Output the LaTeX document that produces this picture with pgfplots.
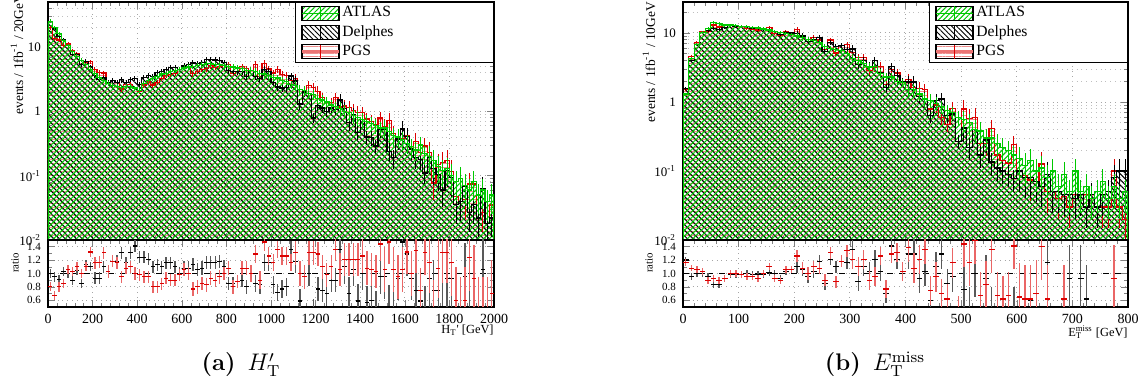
\documentclass[border=0pt]{standalone}
\usepackage{fontspec}
\usepackage{pgfplots}
\pgfplotsset{compat=1.18}
\usepackage{pgfplotstable}
\usetikzlibrary{patterns.meta}
\newfontfamily\rootfont{Liberation Serif}
\definecolor{agreen}{RGB}{0,200,0}
\definecolor{pred}{RGB}{220,0,0}

% x = low bin edge, c = bin centre, a = ATLAS, d = Delphes, p = PGS, rd/rp = ratios, e = error
\pgfplotstableread{
x c a d p rd rp e
0 nan 0.001 0.001 0.001 nan nan nan
0 10 25 25 20 1.0 0.81 0.07
20 30 20 19 13.4 0.95 0.67 0.07
40 50 16 14.6 12.8 0.91 0.80 0.07
60 70 12.5 12.9 10.6 1.03 0.85 0.07
80 90 10.5 10.5 11.1 1.0 1.06 0.07
100 110 8.5 7.65 8.75 0.9 1.03 0.07
120 130 7.2 7.56 7.92 1.05 1.1 0.07
140 150 6.2 5.27 6.2 0.85 1.0 0.07
160 170 5.3 5.99 5.83 1.13 1.1 0.07
180 190 4.5 4.95 5.94 1.1 1.32 0.07
200 210 3.9 3.63 4.52 0.93 1.16 0.09
220 230 3.4 3.16 3.98 0.93 1.17 0.09
240 250 3.0 3.3 3.93 1.1 1.31 0.09
260 270 2.7 2.78 2.78 1.03 1.03 0.09
280 290 2.55 3.01 3.01 1.18 1.18 0.09
300 310 2.4 2.83 2.78 1.18 1.16 0.09
320 330 2.35 3.08 2.23 1.31 0.95 0.09
340 350 2.4 2.78 2.59 1.16 1.08 0.09
360 370 2.4 3.14 2.64 1.31 1.1 0.09
380 390 2.3 3.24 2.3 1.41 1.0 0.09
400 410 2.1 2.6 2.06 1.24 0.98 0.09
420 430 2.7 3.35 2.57 1.24 0.95 0.09
440 450 3.0 3.63 2.85 1.21 0.95 0.09
460 470 3.2 3.52 2.56 1.1 0.8 0.09
480 490 3.5 3.96 2.8 1.13 0.8 0.09
500 510 3.8 4.18 3.23 1.1 0.85 0.09
520 530 3.9 4.52 3.63 1.16 0.93 0.09
540 550 4.1 4.76 3.69 1.16 0.9 0.09
560 570 4.3 4.73 3.87 1.1 0.9 0.09
580 590 4.5 4.5 4.41 1.0 0.98 0.09
600 610 4.7 5.08 4.98 1.08 1.06 0.1
620 630 4.9 5.29 4.9 1.08 1.0 0.1
640 650 5.0 5.65 3.85 1.13 0.77 0.1
660 670 5.2 5.51 4.16 1.06 0.8 0.1
680 690 5.3 5.72 4.5 1.08 0.85 0.1
700 710 5.5 6.38 4.57 1.16 0.83 0.1
720 730 5.5 6.38 5.12 1.16 0.93 0.1
740 750 5.4 6.26 4.86 1.16 0.9 0.1
760 770 5.3 6.25 5.04 1.18 0.95 0.1
780 790 5.2 5.72 5.2 1.1 1.0 0.1
800 810 5.0 4.25 5.4 0.85 1.08 0.1
820 830 4.9 4.17 3.92 0.85 0.8 0.1
840 850 4.7 4.14 4.14 0.88 0.88 0.1
860 870 4.6 4.14 4.97 0.9 1.08 0.1
880 890 4.3 3.44 4.64 0.8 1.08 0.1
900 910 4.3 4.3 4.3 1.0 1.0 0.13
920 930 4.1 3.49 5.29 0.85 1.29 0.13
940 950 3.9 3.24 3.51 0.83 0.9 0.13
960 970 3.8 4.41 5.59 1.16 1.47 0.13
980 990 3.6 4.18 4.54 1.16 1.26 0.13
1000 1010 3.4 2.82 3.94 0.83 1.16 0.13
1020 1030 3.3 2.38 4.49 0.72 1.36 0.13
1040 1050 3.0 2.31 3.78 0.77 1.26 0.13
1060 1070 2.9 2.32 3.65 0.8 1.26 0.13
1080 1090 2.6 3.54 3.02 1.36 1.16 0.13
1100 1110 2.5 2.95 3.28 1.18 1.31 0.18
1120 1130 2.2 1.3 2.2 0.59 1.0 0.18
1140 1150 2.1 2.0 2.0 0.95 0.95 0.18
1160 1170 1.9 1.9 2.49 1.0 1.31 0.18
1180 1190 1.8 0.79 2.36 0.44 1.31 0.18
1200 1210 1.6 1.23 2.06 0.77 1.29 0.18
1220 1230 1.5 1.13 1.65 0.75 1.1 0.18
1240 1250 1.4 0.98 1.37 0.7 0.98 0.18
1260 1270 1.25 1.13 1.38 0.9 1.1 0.18
1280 1290 1.2 1.08 1.63 0.9 1.36 0.18
1300 1310 1.1 1.5 1.17 1.36 1.06 0.25
1320 1330 1.0 1.1 1.21 1.1 1.21 0.25
1340 1350 0.95 0.67 1.15 0.7 1.21 0.25
1360 1370 0.85 0.9 1.03 1.06 1.21 0.25
1380 1390 0.8 0.47 0.97 0.59 1.21 0.25
1400 1410 0.75 0.75 0.95 1.0 1.26 0.25
1420 1430 0.7 0.4 0.76 0.57 1.08 0.25
1440 1450 0.65 0.39 0.69 0.6 1.06 0.25
1460 1470 0.6 0.29 0.62 0.49 1.03 0.25
1480 1490 0.55 0.52 0.79 0.95 1.44 0.25
1500 1510 0.55 0.52 0.58 0.95 1.06 0.33
1520 1530 0.48 0.24 0.71 0.5 1.47 0.33
1540 1550 0.42 0.19 0.45 0.45 1.06 0.33
1560 1570 0.4 0.37 0.38 0.93 0.95 0.33
1580 1590 0.36 0.53 0.38 1.47 1.06 0.33
1600 1610 0.32 0.41 0.42 1.29 1.32 0.33
1620 1630 0.28 0.26 0.28 0.93 1.0 0.33
1640 1650 0.25 0.19 0.34 0.75 1.34 0.33
1660 1670 0.3 0.18 0.23 0.59 0.75 0.33
1680 1690 0.22 0.11 0.29 0.49 1.31 0.33
1700 1710 0.2 0.19 0.23 0.93 1.16 0.45
1720 1730 0.17 0.13 0.077 0.75 0.45 0.45
1740 1750 0.14 0.105 0.15 0.75 1.08 0.45
1760 1770 0.12 0.06 0.16 0.5 1.31 0.45
1780 1790 0.13 0.12 0.17 0.93 1.31 0.45
1800 1810 0.1 0.093 0.116 0.93 1.16 0.5
1820 1830 0.08 0.036 0.048 0.45 0.6 0.5
1840 1850 0.09 0.04 0.04 0.45 0.45 0.5
1860 1870 0.07 0.067 0.042 0.95 0.6 0.5
1880 1890 0.06 0.027 0.074 0.45 1.24 0.5
1900 1910 0.08 0.036 0.074 0.45 0.93 0.5
1920 1930 0.05 0.022 0.022 0.45 0.45 0.5
1940 1950 0.06 0.064 0.027 1.06 0.45 0.5
1960 1970 0.04 0.018 0.018 0.45 0.45 0.5
1980 1990 0.05 0.022 0.035 0.45 0.7 0.5
2000 nan 0.05 0.022 0.035 nan nan nan
2000 nan 0.001 0.001 0.001 nan nan nan
}\htL

\pgfplotstableread{
x c a d p rd rp e
0 nan 0.001 0.001 0.001 nan nan nan
0 5 1.3 1.56 1.51 1.2 1.16 0.05
10 15 4.2 3.99 4.54 0.95 1.08 0.05
20 25 6.8 6.8 7.2 1.0 1.06 0.05
30 35 10 10 10.3 1.0 1.03 0.05
40 45 11.5 10.9 10.35 0.95 0.9 0.05
50 55 14 11.6 13.0 0.83 0.93 0.05
60 65 13.5 11.2 12.15 0.83 0.9 0.05
70 75 13 12.1 12.1 0.93 0.93 0.05
80 85 13 12.7 13 0.98 1.0 0.05
90 95 12.8 12.5 12.8 0.98 1.0 0.05
100 105 12.5 12.25 12.25 0.98 0.98 0.05
110 115 12.3 12.3 11.7 1.0 0.95 0.05
120 125 12 11.8 11.4 0.98 0.95 0.05
130 135 11.8 11.6 11.0 0.98 0.93 0.05
140 145 11.4 11.2 11.4 0.98 1.0 0.05
150 155 11 11.2 12.1 1.02 1.1 0.05
160 165 10.6 10.6 9.86 1.0 0.93 0.05
170 175 10.2 9.49 9.18 0.93 0.9 0.05
180 185 9.8 10.1 10.4 1.03 1.06 0.05
190 195 9.4 9.96 9.96 1.06 1.06 0.05
200 205 9.0 9.9 11.3 1.1 1.26 0.09
210 215 8.5 9.0 9.18 1.06 1.08 0.09
220 225 8.0 7.6 8.0 0.95 1.0 0.09
230 235 7.8 8.03 8.58 1.03 1.1 0.09
240 245 7.3 8.61 7.88 1.18 1.08 0.09
250 255 6.4 5.44 5.76 0.85 0.9 0.09
260 265 6.0 7.26 7.86 1.21 1.31 0.09
270 275 5.8 6.38 5.1 1.1 0.88 0.09
280 285 5.5 6.49 6.49 1.18 1.18 0.09
290 295 5.0 5.8 6.7 1.16 1.34 0.09
300 305 4.3 5.85 5.2 1.36 1.21 0.14
310 315 4.0 3.52 4.4 0.88 1.1 0.14
320 325 3.6 3.96 4.36 1.1 1.21 0.14
330 335 3.2 3.3 2.88 1.03 0.9 0.14
340 345 3.3 3.99 3.14 1.21 0.95 0.14
350 355 2.6 2.68 3.28 1.03 1.26 0.14
360 365 2.3 1.61 1.77 0.7 0.77 0.14
370 375 2.3 3.24 2.97 1.41 1.29 0.14
380 385 2.0 2.42 2.62 1.21 1.31 0.14
390 395 1.9 1.96 1.96 1.03 1.03 0.14
400 405 1.5 1.94 2.09 1.29 1.39 0.22
410 415 1.5 1.94 1.62 1.29 1.08 0.22
420 425 1.3 1.21 1.57 0.93 1.21 0.22
430 435 1.1 1.13 1.5 1.03 1.36 0.22
440 445 1.05 0.63 0.79 0.6 0.75 0.22
450 455 0.95 1.05 0.9 1.1 0.95 0.22
460 465 0.85 1.1 0.6 1.29 0.7 0.22
470 475 0.75 0.64 0.47 0.85 0.62 0.22
480 485 0.7 0.67 0.81 0.95 1.16 0.22
490 495 0.6 0.27 0.27 0.45 0.45 0.22
500 505 0.55 0.42 0.79 0.76 1.44 0.35
510 515 0.5 0.22 0.58 0.45 1.16 0.35
520 525 0.4 0.4 0.6 1.0 1.49 0.35
530 535 0.38 0.17 0.25 0.45 0.67 0.35
540 545 0.3 0.28 0.25 0.93 0.83 0.35
550 555 0.3 0.135 0.41 0.45 1.36 0.35
560 565 0.25 0.11 0.17 0.45 0.67 0.35
570 575 0.22 0.1 0.14 0.45 0.62 0.35
580 585 0.2 0.09 0.13 0.45 0.67 0.35
590 595 0.17 0.077 0.24 0.45 1.41 0.35
600 605 0.15 0.1 0.1 nan 0.65 0.5
610 615 0.12 0.08 0.087 nan 0.62 0.5
620 625 0.14 0.08 0.074 0.6 0.62 0.5
630 635 0.1 0.07 0.07 nan 0.7 0.5
640 645 0.11 0.06 0.126 nan 1.4 0.5
650 655 0.08 0.09 0.05 1.16 0.62 0.5
660 665 0.1 0.05 0.05 nan nan 0.5
670 675 0.06 0.05 0.04 nan nan 0.5
680 685 0.09 0.045 0.043 0.62 0.62 0.5
690 695 0.05 0.045 0.03 0.93 nan 0.5
700 705 0.1 0.04 0.045 nan nan 0.5
710 715 0.05 0.045 0.045 0.93 nan 0.5
720 725 0.06 0.03 0.045 0.62 nan 0.5
730 735 0.04 0.045 0.045 nan nan 0.5
740 745 0.05 0.03 0.03 nan nan 0.5
750 755 0.07 0.045 0.03 nan nan 0.5
760 765 0.04 0.05 0.03 nan nan 0.5
770 775 0.06 0.08 0.1 nan 0.93 0.5
780 785 0.04 0.1 0.03 nan nan 0.5
790 795 0.05 0.1 0.02 nan nan 0.5
800 nan 0.05 0.1 0.02 nan nan nan
800 nan 0.001 0.001 0.001 nan nan nan
}\etL

\newcommand{\atlasimg}{\addlegendimage{legend image code/.code={
  \fill[pattern={Lines[angle=45,distance=1.8pt,line width=0.5pt]}, pattern color=agreen] (0pt,-3.5pt) rectangle (18.5pt,3.5pt);
  \draw[agreen, line width=0.7pt] (0pt,0pt) -- (18.5pt,0pt) (9.25pt,-3.5pt) -- (9.25pt,3.5pt);}}}
\newcommand{\delphesimg}{\addlegendimage{legend image code/.code={
  \fill[pattern={Lines[angle=-45,distance=1.8pt,line width=0.45pt]}, pattern color=black] (0pt,-3.5pt) rectangle (18.5pt,3.5pt);
  \draw[black, line width=0.6pt] (9.25pt,-3.5pt) -- (9.25pt,3.5pt);}}}
\newcommand{\pgsimg}{\addlegendimage{legend image code/.code={
  \fill[pattern={Lines[angle=0,distance=1.6pt,line width=0.5pt]}, pattern color=pred!45] (0pt,-3.5pt) rectangle (18.5pt,3.5pt);
  \draw[pred!55, line width=1.4pt] (0pt,0pt) -- (18.5pt,0pt);
  \draw[pred, line width=0.6pt] (9.25pt,-3.5pt) -- (9.25pt,3.5pt);}}}

\newcommand{\hists}[1]{%
  \addplot[const plot, draw=none, mark=none, forget plot, pattern={Lines[angle=0,distance=2pt,line width=0.45pt]}, pattern color=pred!45] table[x=x,y=p]{#1};
  \addplot[const plot, draw=none, mark=none, forget plot, pattern={Lines[angle=-45,distance=2pt,line width=0.55pt]}, pattern color=black] table[x=x,y=d]{#1};
  \addplot[const plot, draw=none, mark=none, forget plot, pattern={Lines[angle=45,distance=2pt,line width=0.55pt]}, pattern color=agreen] table[x=x,y=a]{#1};
  \addplot[const plot, mark=none, pred, line width=0.6pt, forget plot] table[x=x,y=p]{#1};
  \addplot[const plot, mark=none, black, line width=0.6pt, forget plot] table[x=x,y=d]{#1};
  \addplot[const plot, mark=none, agreen, line width=0.6pt, forget plot] table[x=x,y=a]{#1};
  \addplot[draw=none, mark=none, forget plot, error bars/.cd, y dir=both, y explicit relative,
    error mark=none, error bar style={draw=pred, line width=0.5pt}] table[x=c,y=p,y error=e]{#1};
  \addplot[draw=none, mark=none, forget plot, error bars/.cd, y dir=both, y explicit relative,
    error mark=none, error bar style={draw=black, line width=0.5pt}] table[x=c,y=d,y error=e]{#1};
  \addplot[draw=none, mark=none, forget plot, error bars/.cd, y dir=both, y explicit relative,
    error mark=none, error bar style={draw=agreen, line width=0.5pt}] table[x=c,y=a,y error=e]{#1};
  \atlasimg \addlegendentry{\makebox[72pt][l]{ATLAS}}
  \delphesimg \addlegendentry{\makebox[72pt][l]{Delphes}}
  \pgsimg \addlegendentry{\makebox[72pt][l]{PGS}}
}

\newcommand{\ratios}[3]{% table, half bin, xmax
  \addplot[black, dashed, mark=none, line width=0.6pt] coordinates {(0,1) (#3,1)};
  \addplot[draw=none, mark=none, error bars/.cd, y dir=both, y explicit, error mark=none,
    error bar style={draw=black!65, line width=0.7pt}] table[x=c,y=rd,y error=e]{#1};
  \addplot[draw=none, mark=none, error bars/.cd, x dir=both, x fixed=#2, error mark=none,
    error bar style={draw=black, line width=0.6pt}] table[x=c,y=rd]{#1};
  \addplot[draw=none, mark=none, error bars/.cd, y dir=both, y explicit, error mark=none,
    error bar style={draw=pred!60, line width=0.7pt}] table[x=c,y=rp,y error=e]{#1};
  \addplot[draw=none, mark=none, error bars/.cd, x dir=both, x fixed=#2, error mark=none,
    error bar style={draw=pred, line width=0.6pt}] table[x=c,y=rp]{#1};
}

\begin{document}
\begin{tikzpicture}
% ---------- left: H_T' ----------
\begin{axis}[at={(24pt,-120pt)}, anchor=south west, scale only axis, width=223pt, height=119pt,
  xmin=0, xmax=2000, ymode=log, ymin=0.01, ymax=50,
  xtick={0,200,...,2000}, minor x tick num=4, xticklabels={},
  ytick={0.01,0.1,1,10}, yticklabels={10\textsuperscript{-2},10\textsuperscript{-1},1,10},
  minor ytick={0.02,0.03,0.04,0.05,0.06,0.07,0.08,0.09,0.2,0.3,0.4,0.5,0.6,0.7,0.8,0.9,2,3,4,5,6,7,8,9,20,30,40},
  tick align=inside, xtick pos=both, ytick pos=both,
  major tick length=3.5pt, minor tick length=1.8pt,
  axis line style={line width=0.7pt},
  xmajorgrids, ymajorgrids, yminorgrids,
  major grid style={dotted, gray!70, line width=0.4pt},
  minor grid style={dotted, gray!50, line width=0.4pt},
  yticklabel style={font=\rootfont\fontsize{6.5}{7}\selectfont},
  legend cell align=left,
  legend style={at={(1,1)}, anchor=north east, draw=black, line width=0.6pt, fill=white,
    inner xsep=2.5pt, inner ysep=1pt, row sep=0.8pt,
    font=\rootfont\fontsize{7.8}{9}\selectfont, nodes={inner sep=1pt}}]
  \hists{\htL}
\end{axis}
\begin{axis}[at={(24pt,-120pt)}, anchor=north west, scale only axis, width=223pt, height=33.5pt,
  xmin=0, xmax=2000, ymin=0.5, ymax=1.5,
  xtick={0,200,...,2000}, minor x tick num=4,
  ytick={0.6,0.8,1.0,1.2,1.4}, minor y tick num=1,
  tick align=inside, xtick pos=both, ytick pos=both,
  major tick length=3.5pt, minor tick length=1.8pt,
  axis line style={line width=0.7pt},
  xmajorgrids, ymajorgrids,
  major grid style={dotted, gray!70, line width=0.4pt},
  /pgf/number format/assume math mode=true, /pgf/number format/1000 sep={}, scaled ticks=false,
  yticklabel style={/pgf/number format/fixed, /pgf/number format/fixed zerofill,
    /pgf/number format/precision=1, font=\rootfont\fontsize{5.5}{6}\selectfont},
  xticklabel style={font=\rootfont\fontsize{7}{8}\selectfont}]
  \ratios{\htL}{10}{2000}
\end{axis}
% ---------- right: E_T^miss ----------
\begin{axis}[at={(341.5pt,-120pt)}, anchor=south west, scale only axis, width=222.5pt, height=119pt,
  xmin=0, xmax=800, ymode=log, ymin=0.01, ymax=28,
  xtick={0,100,...,800}, minor x tick num=4, xticklabels={},
  ytick={0.01,0.1,1,10}, yticklabels={10\textsuperscript{-2},10\textsuperscript{-1},1,10},
  minor ytick={0.02,0.03,0.04,0.05,0.06,0.07,0.08,0.09,0.2,0.3,0.4,0.5,0.6,0.7,0.8,0.9,2,3,4,5,6,7,8,9,20},
  tick align=inside, xtick pos=both, ytick pos=both,
  major tick length=3.5pt, minor tick length=1.8pt,
  axis line style={line width=0.7pt},
  xmajorgrids, ymajorgrids, yminorgrids,
  major grid style={dotted, gray!70, line width=0.4pt},
  minor grid style={dotted, gray!50, line width=0.4pt},
  yticklabel style={font=\rootfont\fontsize{6.5}{7}\selectfont},
  legend cell align=left,
  legend style={at={(1,1)}, anchor=north east, draw=black, line width=0.6pt, fill=white,
    inner xsep=2.5pt, inner ysep=1pt, row sep=0.8pt,
    font=\rootfont\fontsize{7.8}{9}\selectfont, nodes={inner sep=1pt}}]
  \hists{\etL}
\end{axis}
\begin{axis}[at={(341.5pt,-120pt)}, anchor=north west, scale only axis, width=222.5pt, height=33.5pt,
  xmin=0, xmax=800, ymin=0.5, ymax=1.5,
  xtick={0,100,...,800}, minor x tick num=4,
  ytick={0.6,0.8,1.0,1.2,1.4}, minor y tick num=1,
  tick align=inside, xtick pos=both, ytick pos=both,
  major tick length=3.5pt, minor tick length=1.8pt,
  axis line style={line width=0.7pt},
  xmajorgrids, ymajorgrids,
  major grid style={dotted, gray!70, line width=0.4pt},
  /pgf/number format/assume math mode=true, /pgf/number format/1000 sep={}, scaled ticks=false,
  yticklabel style={/pgf/number format/fixed, /pgf/number format/fixed zerofill,
    /pgf/number format/precision=1, font=\rootfont\fontsize{5.5}{6}\selectfont},
  xticklabel style={font=\rootfont\fontsize{7}{8}\selectfont}]
  \ratios{\etL}{5}{800}
\end{axis}
% ---------- labels ----------
\node[rotate=90, anchor=west, inner sep=0pt, font=\rootfont\fontsize{6.7}{8}\selectfont]
  at (8.5pt,-57.5pt) {events / 1fb\textsuperscript{-1} / 20GeV};
\node[rotate=90, anchor=west, inner sep=0pt, font=\rootfont\fontsize{6.7}{8}\selectfont]
  at (324.5pt,-61.5pt) {events / 1fb\textsuperscript{-1} / 10GeV};
\node[rotate=90, inner sep=0pt, font=\rootfont\fontsize{5.4}{6}\selectfont] at (7.5pt,-131.5pt) {ratio};
\node[rotate=90, inner sep=0pt, font=\rootfont\fontsize{5.4}{6}\selectfont] at (324.5pt,-131.5pt) {ratio};
\node[anchor=east, inner sep=0pt, font=\rootfont\fontsize{6.2}{7}\selectfont] at (247pt,-165pt)
  {H\textsubscript{T}' [GeV]};
\node[anchor=east, inner sep=0pt, font=\rootfont\fontsize{6.2}{7}\selectfont] at (564pt,-166pt)
  {E\rlap{\textsubscript{T}}\textsuperscript{miss} [GeV]};
\node[anchor=base, inner sep=0pt, font=\fontsize{12}{14}\selectfont] at (120.5pt,-185.5pt)
  {\textbf{(a)}\hspace{0.5em}$H'_{\mathrm{T}}$};
\node[anchor=base, inner sep=0pt, font=\fontsize{12}{14}\selectfont] at (437.5pt,-185.5pt)
  {\textbf{(b)}\hspace{0.5em}$E_{\mathrm{T}}^{\mathrm{miss}}$};
\pgfresetboundingbox
\useasboundingbox (0pt,0pt) rectangle (569.5pt,-191.5pt);
\end{tikzpicture}
\end{document}
